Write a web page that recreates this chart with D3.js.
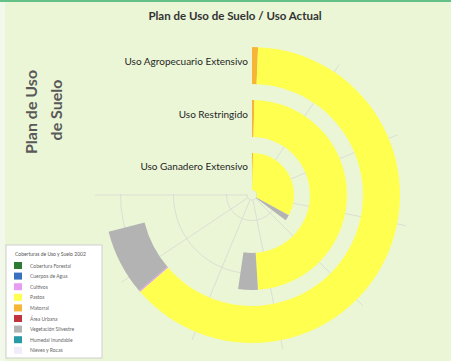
<!DOCTYPE html>
<html>
<head>
<meta charset="utf-8">
<script src="https://cdn.jsdelivr.net/npm/d3@7"></script>
<style>
  body { margin: 0; background: #ebf6d7; }
  svg { display: block; }
</style>
</head>
<body>
<div id="chart"></div>
<script>
// rings, from the centre outwards
var categories = ["Uso Ganadero Extensivo", "Uso Restringido", "Uso Agropecuario Extensivo"];

// hectares of each cover type inside each ring (same order as categories)
var matorral   = [130, 130, 210];
var pastos     = [10440, 15550, 20160];
var cultivos   = [0, 0, 45];
var vegetacion = [710, 1070, 2310];

// angular axis
var angleMax = 32000;
var angleTicks = [0, 3000, 6000, 9000, 12000, 15000, 18000, 21000, 24000, 27000, 30000];

// legend
var legendTitle = "Coberturas de Uso y Suelo 2002";
var legendNames = ["Cobertura Forestal", "Cuerpos de Agua", "Cultivos", "Pastos", "Matorral",
  "Área Urbana", "Vegetación Silvestre", "Humedal Inundable", "Nieves y Rocas"];
var legendColors = ["#2f7a33", "#3a6fc0", "#e79cf2", "#ffff4f", "#f7b538",
  "#c0343c", "#b3b3b3", "#2a9aa6", "#f1ecfa"];

var svgWidth = 451, svgHeight = 361;
var cx = 252, cy = 195;

var svg = d3.select("#chart").append("svg")
  .attr("width", svgWidth)
  .attr("height", svgHeight);

// background + thin top border
svg.append("rect").attr("width", svgWidth).attr("height", svgHeight).attr("fill", "#ebf6d7");
svg.append("rect").attr("width", 5).attr("height", svgHeight).attr("fill", "#f3f9ea");
svg.append("rect").attr("width", svgWidth).attr("height", 2).attr("fill", "#63c187");

var keys = ["Matorral", "Pastos", "Cultivos", "Vegetación Silvestre"];
var rows = categories.map(function(c, i) {
  return { cat: c, "Matorral": matorral[i], "Pastos": pastos[i],
    "Cultivos": cultivos[i], "Vegetación Silvestre": vegetacion[i] };
});
var series = d3.stack().keys(keys)(rows);

var color = d3.scaleOrdinal().domain(legendNames).range(legendColors);

var x = d3.scaleLinear().domain([0, angleMax]).range([0, 2 * Math.PI]);
var y = d3.scaleBand().domain(categories).range([5, 148]).paddingInner(0.3);

var g = svg.append("g").attr("transform", `translate(${cx},${cy})`);

// polar grid
var grid = g.append("g").attr("fill", "none").attr("stroke", "#dcdfd4").attr("stroke-width", 1);
grid.selectAll("circle")
  .data([5].concat(categories.map(c => y(c) + y.bandwidth() / 2 + 2)))
  .enter().append("circle")
  .attr("r", d => d);
grid.selectAll("line")
  .data(angleTicks)
  .enter().append("line")
  .attr("x1", d => 5 * Math.sin(x(d)))
  .attr("y1", d => -5 * Math.cos(x(d)))
  .attr("x2", d => 157 * Math.sin(x(d)))
  .attr("y2", d => -157 * Math.cos(x(d)));

// the label area hides the upper-left quarter of the grid
svg.append("rect")
  .attr("x", 5).attr("y", 2)
  .attr("width", cx - 5 + 1).attr("height", cy - 3)
  .attr("fill", "#ebf6d7");

var front = svg.append("g").attr("transform", `translate(${cx},${cy})`);

// stacked rings
var arc = d3.arc()
  .innerRadius(d => y(d.data.cat))
  .outerRadius(d => y(d.data.cat) + y.bandwidth())
  .startAngle(d => x(d[0]))
  .endAngle(d => x(d[1]));

front.append("g").selectAll("g")
  .data(series)
  .enter().append("g")
  .attr("fill", d => color(d.key))
  .selectAll("path")
  .data(d => d.filter(p => p[1] > p[0]))
  .enter().append("path")
  .attr("d", arc);

// ring labels
front.append("g").selectAll("text")
  .data(categories)
  .enter().append("text")
  .attr("x", -4)
  .attr("y", d => -(y(d) + y.bandwidth() / 2) - 1)
  .attr("text-anchor", "end")
  .attr("font-family", "Lato, sans-serif")
  .attr("font-size", "10px")
  .attr("fill", "#262626")
  .text(d => d);

// title
svg.append("text")
  .attr("x", 235).attr("y", 20)
  .attr("text-anchor", "middle")
  .attr("font-family", "Lato, sans-serif")
  .attr("font-weight", "bold")
  .attr("font-size", "11.5px")
  .attr("fill", "#333")
  .text("Plan de Uso de Suelo / Uso Actual");

// axis title
var yTitle = svg.append("g")
  .attr("font-family", "Lato, sans-serif")
  .attr("font-weight", "bold")
  .attr("font-size", "16px")
  .attr("fill", "#595959")
  .attr("text-anchor", "middle");
yTitle.append("text")
  .attr("transform", "translate(37,112) rotate(-90)")
  .text("Plan de Uso");
yTitle.append("text")
  .attr("transform", "translate(62,110) rotate(-90)")
  .text("de Suelo");

// legend
var legend = svg.append("g").attr("transform", "translate(6,245)");
legend.append("rect")
  .attr("width", 96).attr("height", 113)
  .attr("fill", "#fff")
  .attr("stroke", "#cfcfcf");
legend.append("text")
  .attr("x", 9).attr("y", 11)
  .attr("font-family", "Lato, sans-serif")
  .attr("font-size", "5px")
  .attr("fill", "#555")
  .text(legendTitle);
var items = legend.selectAll(".item")
  .data(legendNames)
  .enter().append("g")
  .attr("class", "item")
  .attr("transform", (d, i) => `translate(8,${17 + i * 10.6})`);
items.append("rect")
  .attr("width", 8).attr("height", 7)
  .attr("fill", d => color(d));
items.append("text")
  .attr("x", 16).attr("y", 5.5)
  .attr("font-family", "Lato, sans-serif")
  .attr("font-size", "5px")
  .attr("fill", "#666")
  .text(d => d);
</script>
</body>
</html>
